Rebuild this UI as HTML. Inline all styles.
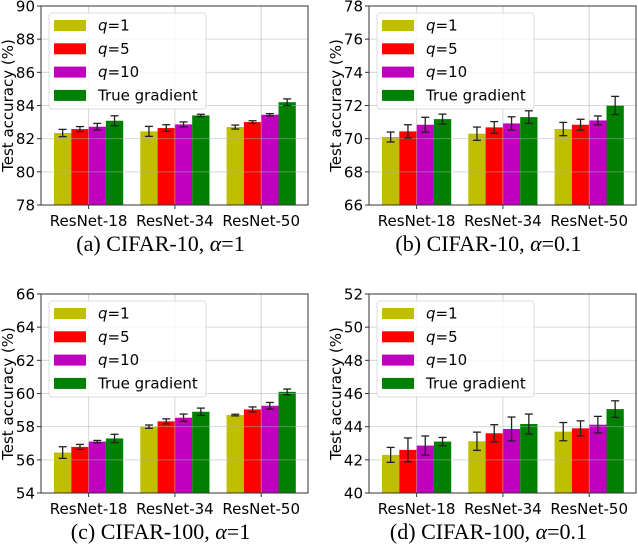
<!DOCTYPE html>
<html><head><meta charset="utf-8"><style>
body{margin:0;background:#fff}
svg{display:block}
text{font-family:"DejaVu Sans","Liberation Sans",sans-serif}
.cap{font-family:"Liberation Serif","DejaVu Serif",serif;font-size:22px}
</style></head><body>
<svg id="fig" width="638" height="548" viewBox="0 0 638 548" xmlns="http://www.w3.org/2000/svg"></svg>
<script>
const categories = ["ResNet-18","ResNet-34","ResNet-50"];
const seriesNames = ["q=1","q=5","q=10","True gradient"];
const colors = ["#bfbf00","#ff0000","#bf00bf","#008000"];
// panel a: CIFAR-10 alpha=1
const aVals = [[82.34,82.44,82.7],[82.58,82.64,83.0],[82.72,82.86,83.44],[83.08,83.4,84.2]];
const aErr = [[0.22,0.3,0.12],[0.15,0.2,0.08],[0.2,0.15,0.07],[0.3,0.07,0.2]];
const aTicks = [78,80,82,84,86,88,90];
// panel b: CIFAR-10 alpha=0.1
const bVals = [[70.1,70.3,70.58],[70.44,70.68,70.84],[70.84,70.92,71.1],[71.18,71.3,72.0]];
const bErr = [[0.3,0.4,0.4],[0.4,0.35,0.33],[0.45,0.4,0.27],[0.3,0.38,0.55]];
const bTicks = [66,68,70,72,74,76,78];
// panel c: CIFAR-100 alpha=1
const cVals = [[56.44,58.0,58.7],[56.78,58.32,59.04],[57.1,58.54,59.26],[57.29,58.9,60.1]];
const cErr = [[0.35,0.1,0.05],[0.15,0.15,0.15],[0.07,0.22,0.2],[0.25,0.22,0.17]];
const cTicks = [54,56,58,60,62,64,66];
// panel d: CIFAR-100 alpha=0.1
const dVals = [[42.3,43.12,43.7],[42.6,43.6,43.9],[42.86,43.86,44.12],[43.1,44.16,45.06]];
const dErr = [[0.45,0.55,0.55],[0.72,0.52,0.45],[0.58,0.72,0.5],[0.25,0.6,0.5]];
const dTicks = [40,42,44,46,48,50,52];

const NS="http://www.w3.org/2000/svg";
const svg=document.getElementById('fig');
function mk(tag,attrs,parent){const e=document.createElementNS(NS,tag);for(const k in attrs)e.setAttribute(k,attrs[k]);(parent||svg).appendChild(e);return e;}

function panel(id,x0,y0,vals,errs,ticks,capLabel,capData,capAlpha){
  const W=267,H=199;
  const g=mk('g',{});
  
  
  const ymin=ticks[0],ymax=ticks[ticks.length-1];
  const ys=v=>y0+H-(v-ymin)/(ymax-ymin)*H;
  const step=86.3, bw=17.3, first=x0+13+2*bw;
  const xs=i=>first+i*step;
  for(let s=0;s<vals.length;s++){
    for(let i=0;i<categories.length;i++){
      const cx=xs(i)+(s-1.5)*bw;
      const r=mk('rect',{x:cx-bw/2,y:ys(vals[s][i]),width:bw,height:ys(ymin)-ys(vals[s][i]),fill:colors[s]},g);
      
      
    }
  }
  ticks.forEach(t=>{const l=mk('line',{x1:x0,x2:x0+W,y1:ys(t),y2:ys(t),stroke:'#b0b0b0','stroke-opacity':0.5,'stroke-width':1},g);
    });
  categories.forEach((c,i)=>{const l=mk('line',{x1:xs(i),x2:xs(i),y1:y0,y2:y0+H,stroke:'#b0b0b0','stroke-opacity':0.5,'stroke-width':1},g);
    });
  for(let s=0;s<vals.length;s++){
    for(let i=0;i<categories.length;i++){
      const cx=xs(i)+(s-1.5)*bw;
      const t=ys(vals[s][i]+errs[s][i]),b=ys(vals[s][i]-errs[s][i]);
      const eg=mk('g',{stroke:'#222','stroke-width':1.3},g);
      
      
      mk('line',{x1:cx,x2:cx,y1:t,y2:b},eg);
      mk('line',{x1:cx-4,x2:cx+4,y1:t,y2:t},eg);
      mk('line',{x1:cx-4,x2:cx+4,y1:b,y2:b},eg);
    }
  }
  const sp=mk('rect',{x:x0,y:y0,width:W,height:H,fill:'none',stroke:'#333','stroke-width':1},g);
  
  ticks.forEach(t=>{
    mk('line',{x1:x0-4,x2:x0,y1:ys(t),y2:ys(t),stroke:'#333'},g);
    const tx=mk('text',{x:x0-6,y:ys(t)+5.5,'text-anchor':'end','font-size':15,fill:'#000'},g);
    tx.textContent=t;
    
  });
  categories.forEach((c,i)=>{
    mk('line',{x1:xs(i),x2:xs(i),y1:y0+H,y2:y0+H+4,stroke:'#333'},g);
    const tx=mk('text',{x:xs(i),y:y0+H+21,'text-anchor':'middle','font-size':15,fill:'#000'},g);
    tx.textContent=c;
    
  });
  const yl=mk('text',{x:0,y:0,transform:`translate(${x0-28},${y0+H/2}) rotate(-90)`,'text-anchor':'middle','font-size':15,fill:'#000'},g);
  yl.textContent='Test accuracy (%)';
  
  const lg=mk('g',{},g);
  
  mk('rect',{x:x0+8,y:y0+7,width:157,height:96,rx:3,fill:'#fff','fill-opacity':0.8,stroke:'#ddd'},lg);
  seriesNames.forEach((n,s)=>{
    const cy=y0+19+s*23.3;
    const p=mk('rect',{x:x0+13,y:cy-5,width:32,height:11,fill:colors[s]},lg);
    
    const tx=mk('text',{x:x0+57,y:cy+5.5,'font-size':15,fill:'#000'},lg);
    
    if(n.startsWith('q=')){
      const i1=mk('tspan',{'font-style':'italic'},tx);i1.textContent='q';
      const i2=mk('tspan',{},tx);i2.textContent=n.slice(1);
    } else tx.textContent=n;
  });
  const cap=mk('text',{x:x0+W/2-14,y:y0+H+46,'text-anchor':'middle',class:'cap',fill:'#000','xml:space':'preserve'},g);
  
  const t0=mk('tspan',{},cap);t0.textContent=capLabel;
  const t1=mk('tspan',{},cap);t1.textContent=' '+capData+', ';
  const t2=mk('tspan',{'font-style':'italic'},cap);t2.textContent='α';
  const t3=mk('tspan',{},cap);t3.textContent='='+capAlpha;
}
panel('a',41,6,aVals,aErr,aTicks,'(a)','CIFAR-10','1');
panel('b',369,6,bVals,bErr,bTicks,'(b)','CIFAR-10','0.1');
panel('c',41,294,cVals,cErr,cTicks,'(c)','CIFAR-100','1');
panel('d',369,294,dVals,dErr,dTicks,'(d)','CIFAR-100','0.1');
</script>
</body></html>
